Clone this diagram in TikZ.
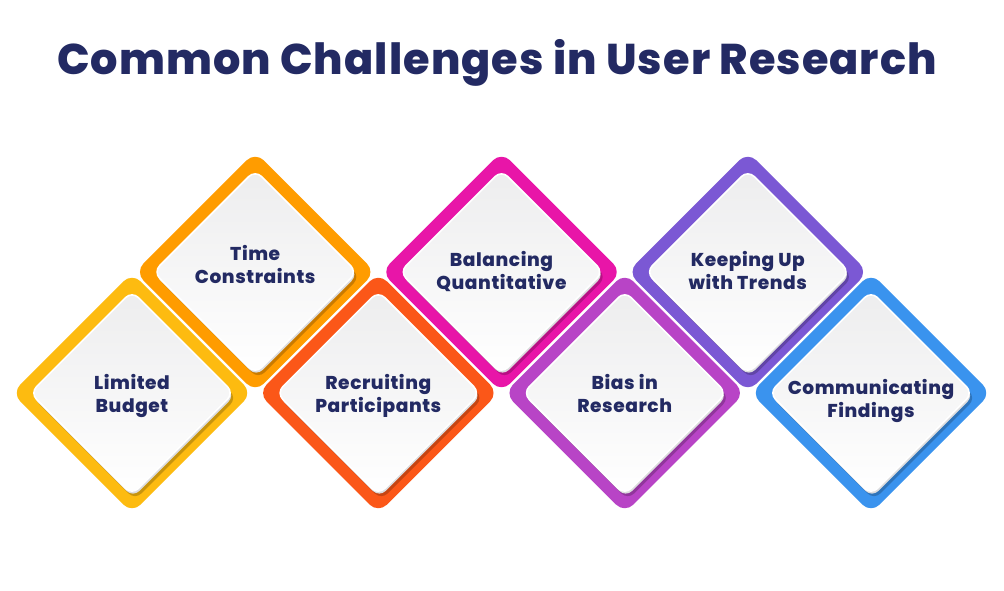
\documentclass[tikz,border=0pt]{standalone}
\usepackage{fontspec}
\setmainfont{Poppins}[BoldFont={Poppins ExtraBold}]
\newfontfamily\titlefont{Poppins ExtraBold}[LetterSpace=2.5]
\newfontfamily\lblfont{Poppins ExtraBold}[LetterSpace=3]
\definecolor{navy}{HTML}{232A63}
\definecolor{cyellow}{HTML}{FDBB10}
\definecolor{corange}{HTML}{FF9C00}
\definecolor{cred}{HTML}{FB5718}
\definecolor{cmagenta}{HTML}{E815A8}
\definecolor{cpurple}{HTML}{B844C6}
\definecolor{cviolet}{HTML}{7B58D4}
\definecolor{cblue}{HTML}{3A93EE}
\definecolor{bevelgray}{HTML}{DCDCDE}
\definecolor{facetop}{HTML}{EDEDEE}
\tikzset{
  outerbox/.style={rectangle, rotate=45, minimum size=170pt, inner sep=0pt, rounded corners=12pt},
  innerbase/.style={rectangle, rotate=45, minimum size=144pt, inner sep=0pt, rounded corners=9pt},
  shadowbox/.style={innerbase, opacity=0.75},
  bevelbox/.style={innerbase, fill=bevelgray},
  facebox/.style={innerbase, draw=white, line width=1.6pt, top color=facetop, bottom color=white},
  lbl/.style={font=\lblfont\fontsize{18.6}{23}\selectfont, text=navy, align=center, anchor=base, inner sep=0pt},
  titlestyle/.style={font=\titlefont\fontsize{43}{50}\selectfont, text=navy, anchor=base, inner sep=0pt}
}
% #1 name, #2 x, #3 y, #4 colour, #5 baseline of last text line, #6 text
\newcommand\drawchal[6]{%
  \node[outerbox, fill=#4] (#1) at (#2,#3) {};
  \node[shadowbox, fill=#4!72!black] (#1-shadow) at (#2+3,#3+5) {};
  \node[bevelbox] (#1-bevel) at (#2+1,#3+2.5) {};
  \node[facebox] (#1-face) at (#2,#3) {};
  \node[lbl] (#1-text) at (#2,#5) {#6};
}
\begin{document}
\begin{tikzpicture}[x=1pt,y=-1pt]
  \useasboundingbox[fill=white] (0,0) rectangle (1004,591);
  \node[titlestyle] (title) at (497,75) {Common Challenges in User Research};
  % top row
  \drawchal{time}{255.2}{272}{corange}{283}{Time\\Constraints}
  \drawchal{balancing}{501.5}{272}{cmagenta}{289}{Balancing\\Quantitative}
  \drawchal{keeping}{747.8}{272}{cviolet}{289}{Keeping Up\\with Trends}
  % bottom row
  \drawchal{budget}{132}{393}{cyellow}{412}{Limited\\Budget}
  \drawchal{recruiting}{378.3}{393}{cred}{412}{Recruiting\\Participants}
  \drawchal{bias}{624.7}{393}{cpurple}{412}{Bias in\\Research}
  \drawchal{communicating}{871}{393}{cblue}{417}{Communicating\\Findings}
\end{tikzpicture}
\end{document}
